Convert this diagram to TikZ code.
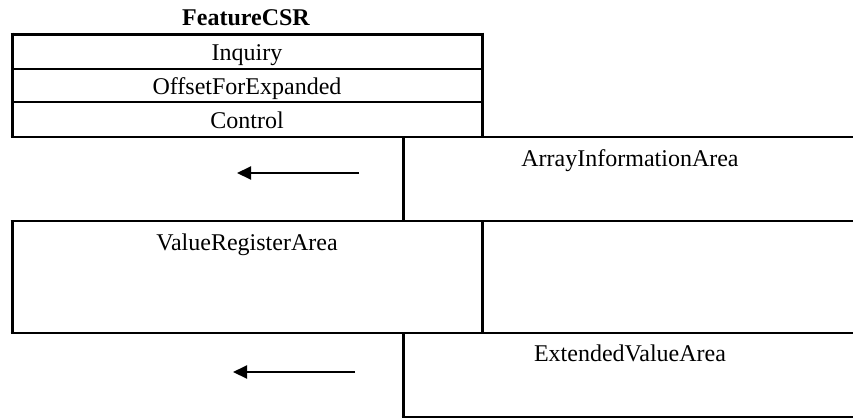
\documentclass[tikz,border=0pt]{standalone}
\usepackage{fontspec}
\setmainfont{Liberation Serif}
\usetikzlibrary{arrows.meta}
\begin{document}
\begin{tikzpicture}[x=1pt,y=-1pt,
  lbl/.style={font=\fontsize{24}{28}\selectfont, inner sep=0pt, anchor=base},
  ttl/.style={font=\fontsize{24}{28}\selectfont\bfseries, inner sep=0pt, anchor=base},
  heavy/.style={line width=3pt},
  mid/.style={line width=2pt},
  light/.style={line width=1.3pt},
  arr/.style={line width=2pt,-{Triangle[length=14pt,width=13pt]}}]
\useasboundingbox (0,0) rectangle (853,418);
% Title
\node[ttl] (title) at (246,25) {FeatureCSR};
% FeatureCSR table
\draw[heavy] (10.5,34) -- (483.5,34);
\draw[heavy] (12,32.5) -- (12,138);
\draw[heavy] (482,32.5) -- (482,138);
\draw[light] (12,69) -- (482,69);
\draw[light] (12,102) -- (482,102);
\node[lbl] (inq) at (247,60) {Inquiry};
\node[lbl] (ofs) at (247,94.5) {OffsetForExpanded};
\node[lbl] (ctl) at (247,128) {Control};
% horizontal separators
\draw[mid] (10.5,137) -- (853,137);
\draw[mid] (10.5,221) -- (853,221);
\draw[mid] (10.5,333) -- (853,333);
\draw[mid] (401.5,417) -- (853,417);
% ArrayInformationArea
\draw[heavy] (403,137) -- (403,221);
\node[lbl] (aia) at (630,166) {ArrayInformationArea};
\coordinate (a1s) at (359,173);
\coordinate (a1e) at (237,173);
\draw[arr] (a1s) -- (a1e);
% ValueRegisterArea
\draw[heavy] (12,221) -- (12,334);
\draw[heavy] (482,221) -- (482,334);
\node[lbl] (vra) at (247,250) {ValueRegisterArea};
% ExtendedValueArea
\draw[heavy] (403,333) -- (403,418);
\node[lbl] (eva) at (630,361) {ExtendedValueArea};
\coordinate (a2s) at (355,372);
\coordinate (a2e) at (233,372);
\draw[arr] (a2s) -- (a2e);
\end{tikzpicture}
\end{document}
